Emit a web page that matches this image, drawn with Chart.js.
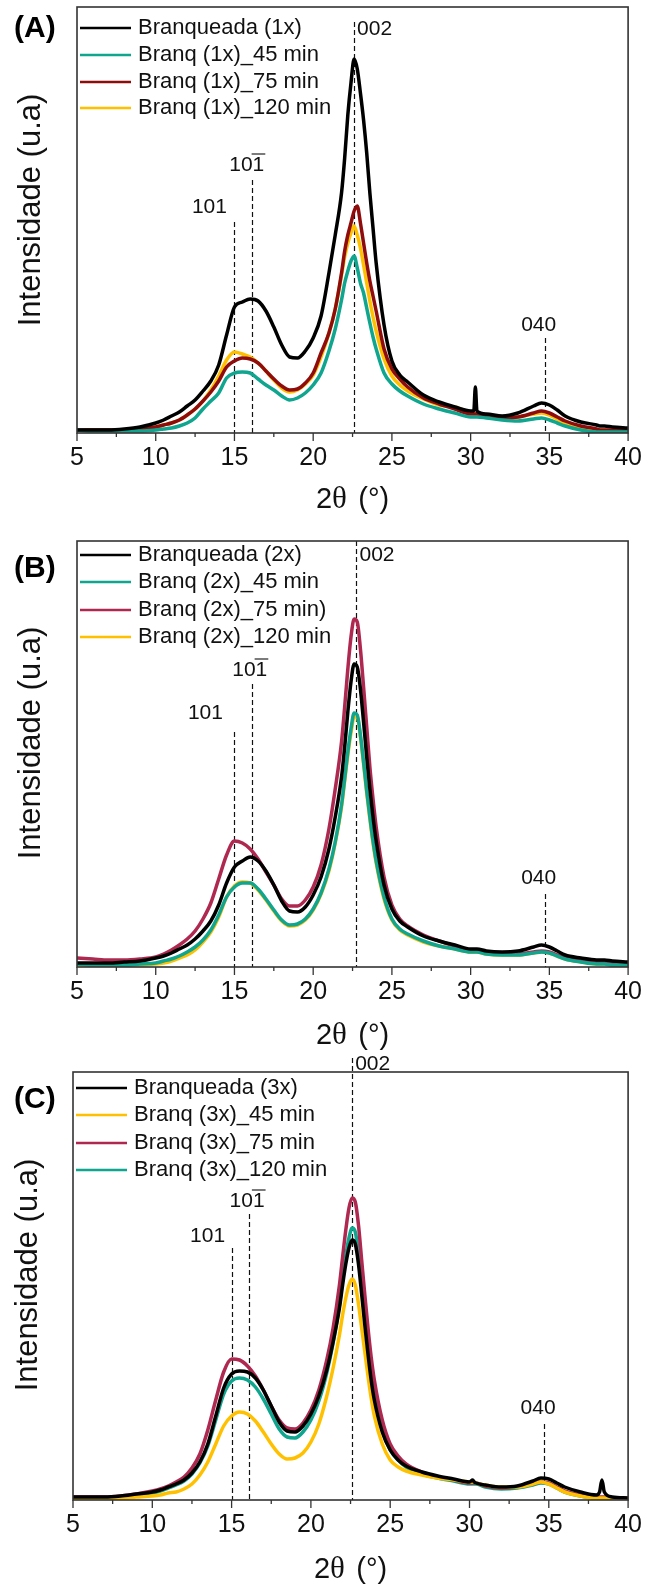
<!DOCTYPE html>
<html><head><meta charset="utf-8">
<script src="https://cdn.jsdelivr.net/npm/chart.js@4.4.1/dist/chart.umd.min.js"></script>
<style>
html,body{margin:0;padding:0;background:#fff;}
#wrap{position:relative;width:652px;height:1589px;overflow:hidden;background:#fff;}
canvas{position:absolute;left:0;}
</style></head><body>
<div id="wrap">
<canvas id="cA" style="top:0px" width="652" height="520"></canvas>
<canvas id="cB" style="top:520px" width="652" height="530"></canvas>
<canvas id="cC" style="top:1050px" width="652" height="539"></canvas>
</div>
<script>
// ---------------- DATA ----------------
const twoTheta = [5,6,7,8,9,10, 10.5,11,11.5,12,12.5,13,13.5,14,14.5,15, 15.5,16,16.5,17,17.5,18,18.5,19,19.5,20,
  20.5,21,21.4,21.8, 22.0,22.2,22.4,22.6,22.8, 23.0,23.2,23.4,23.6,23.8, 24.0,24.5,25,25.5,26, 27,28,29,30,
  30.2,30.3,30.4, 31,32,33,34, 34.5,35,35.5,36, 37,38, 38.2,38.35,38.5, 39,40];
const xTickValues = [5,10,15,20,25,30,35,40];

const A_labels = ['Branqueada (1x)', 'Branq (1x)_45 min', 'Branq (1x)_75 min', 'Branq (1x)_120 min'];
const A_branqueada = [3,3,3,4,6,10, 13,17,21,27,33,42,52,68,98,126, 131,134,132,122,106,88,76,75,82,95,
  117,160,198,240, 275,318,350,374,364, 340,313,280,240,205, 170,108,72,58,51, 38,31,26,22, 22,46,22, 19,17,20,27, 30,28,23,17, 11,8, 7,7,7, 6,5];
const A_45 = [3,2,2,2,2,3, 4,5,7,10,15,24,32,40,55,60, 61,60,54,48,43,37,33,35,40,48,
  60,82,104,133, 150,162,172,177,165, 150,140,125,110,96, 84,60,49,42,37, 29,24,20,16, 16,16,16, 15,13,12,14, 15,13,10,7, 3,1, 1,1,1, 1,1];
const A_75 = [3,3,3,3,4,6, 8,10,13,18,24,32,41,52,66,72, 75,74,70,62,54,47,43,44,50,60,
  80,100,124,160, 182,198,210,222,227, 210,190,170,152,137, 122,84,64,54,46, 35,29,24,19, 19,19,19, 17,15,16,20, 22,20,16,12, 7,4, 3,3,3, 3,3];
const A_120 = [3,3,3,3,4,6, 8,10,13,18,24,32,43,57,73,81, 79,76,70,62,53,45,41,43,49,58,
  76,100,124,158, 176,190,200,207,198, 185,168,150,132,116, 102,74,57,48,42, 34,28,26,20, 19,19,19, 17,15,16,19, 20,18,14,9, 5,3, 3,3,3, 2,2];

const B_labels = ['Branqueada (2x)', 'Branq (2x)_45 min', 'Branq (2x)_75 min)', 'Branq (2x)_120 min'];
const B_branqueada = [4,4,4,5,6,9, 11,14,18,22,28,36,46,62,84,100, 106,110,106,96,82,66,56,55,60,72,
  90,118,150,190, 220,255,285,303,300, 278,245,210,178,150, 126,82,58,46,40, 31,26,22,18, 18,18,18, 16,15,16,20, 22,20,16,12, 9,7, 7,7,7, 6,5];
const B_45 = [3,2,2,2,3,4, 6,8,11,15,20,27,37,52,70,80, 84,84,78,68,57,47,42,43,48,58,
  74,98,125,162, 188,215,238,254,252, 232,205,176,150,126, 106,70,48,38,33, 26,21,18,15, 15,15,15, 13,12,12,14, 15,14,11,8, 5,3, 3,3,3, 2,2];
const B_75 = [9,8,7,7,8,10, 13,17,22,28,36,48,64,88,112,126, 124,118,108,95,82,68,61,61,67,80,
  102,138,178,225, 260,298,330,348,345, 318,280,240,200,168, 140,90,62,48,41, 32,26,21,17, 17,17,17, 15,13,13,15, 16,15,12,9, 6,5, 5,5,5, 4,4];
const B_120 = [2,2,2,2,2,3, 4,6,9,12,17,25,35,50,70,81, 85,84,77,67,56,46,41,42,47,57,
  73,96,124,160, 186,212,234,250,250, 230,203,174,148,124, 104,68,47,37,32, 25,21,18,15, 15,15,15, 13,12,12,14, 15,14,11,8, 5,3, 3,3,3, 2,2];

const C_labels = ['Branqueada (3x)', 'Branq (3x)_45 min', 'Branq (3x)_75 min', 'Branq (3x)_120 min'];
const C_branqueada = [3,3,3,4,6,8, 10,13,16,20,27,38,56,84,112,126, 129,128,122,110,94,78,69,68,74,86,
  104,130,158,192, 215,236,252,260,256, 236,206,175,146,120, 100,68,50,40,34, 28,24,21,18, 20,18,17, 15,13,14,19, 22,21,17,13, 8,5, 8,20,8, 3,2];
const C_45 = [2,2,2,2,3,4, 5,7,8,11,16,25,38,56,74,84, 88,86,79,68,56,46,41,42,47,58,
  76,104,132,165, 185,202,215,221,215, 196,172,148,124,102, 84,56,40,33,29, 25,22,20,18, 18,18,17, 15,13,13,16, 18,16,12,8, 4,2, 2,2,2, 2,2];
const C_75 = [3,3,3,4,6,9, 11,14,18,23,32,46,70,100,128,141, 140,134,124,110,94,80,72,71,77,90,
  110,140,172,215, 243,270,292,302,298, 275,240,205,172,143, 120,80,56,44,36, 28,23,20,17, 17,17,17, 14,12,13,16, 18,17,13,9, 5,3, 3,3,3, 2,2];
const C_120 = [2,2,2,3,5,7, 9,12,15,19,26,37,54,80,106,119, 122,120,113,101,86,71,63,62,68,80,
  99,127,157,195, 220,244,262,272,268, 246,214,182,152,125, 104,70,50,40,33, 26,22,19,16, 16,16,16, 13,11,12,15, 17,16,12,8, 4,2, 2,2,2, 2,2];

const peakNames = ['101', '101', '002', '040'];
const peakOverline = [false, true, false, false];

// ---------------- STYLE / LAYOUT ----------------
const FONT = "'Liberation Sans', Arial, Helvetica, sans-serif";
const SERIF = "'Liberation Serif', 'DejaVu Serif', serif";
const BLACK = '#000000', TEAL = '#0FA58E', DRED = '#8E0C0C', YEL = '#FFC000', CRIM = '#AE2850';

const panels = [
  { id:'cA', letter:'(A)', series:[A_branqueada, A_45, A_75, A_120], labels:A_labels, colors:[BLACK,TEAL,DRED,YEL],
    pad:{left:77, right:16, top:7, bottom:47}, ymax:426, letterY:28.5, legendRows:[28,55,82,108], ytitle:{x:31,y:210}, xtitleY:500,
    peaks:[ {x:15.0, top:222, lx:-25, ly:207, align:'center'}, {x:16.1, top:180, lx:-5, ly:165, align:'center'},
            {x:22.6, top:22, lx:3, ly:29, align:'left'}, {x:34.7, top:338, lx:-6, ly:325, align:'center'} ] },
  { id:'cB', letter:'(B)', series:[B_branqueada, B_45, B_75, B_120], labels:B_labels, colors:[BLACK,TEAL,CRIM,YEL],
    pad:{left:77, right:17, top:21, bottom:43}, ymax:426, letterY:48.5, legendRows:[35,62,90,117], ytitle:{x:31,y:223}, xtitleY:516,
    peaks:[ {x:15.0, top:212, lx:-29, ly:193, align:'center'}, {x:16.1, top:164, lx:-2, ly:150, align:'center'},
            {x:22.75, top:21, lx:3, ly:35, align:'left'}, {x:34.7, top:374, lx:-6, ly:358, align:'center'} ] },
  { id:'cC', letter:'(C)', series:[C_branqueada, C_45, C_75, C_120], labels:C_labels, colors:[BLACK,YEL,CRIM,TEAL],
    pad:{left:73, right:19, top:22, bottom:49}, ymax:428, letterY:50, legendRows:[38,65,93,120], ytitle:{x:28,y:225}, xtitleY:520,
    peaks:[ {x:15.0, top:198, lx:-24, ly:186, align:'center'}, {x:16.1, top:164, lx:-2, ly:151, align:'center'},
            {x:22.6, top:8, lx:3, ly:14, align:'left'}, {x:34.7, top:374, lx:-6, ly:358, align:'center'} ] }
];

function panelPlugin(p) {
  return {
    id: 'deco_' + p.id,
    beforeDatasetsDraw(chart) {
      const ctx = chart.ctx, xs = chart.scales.x, ca = chart.chartArea;
      ctx.save();
      ctx.strokeStyle = '#111'; ctx.lineWidth = 1.2; ctx.setLineDash([5,3]);
      p.peaks.forEach(pk => {
        const px = Math.round(xs.getPixelForValue(pk.x)) + 0.5;
        ctx.beginPath(); ctx.moveTo(px, pk.top); ctx.lineTo(px, ca.bottom); ctx.stroke();
      });
      ctx.restore();
    },
    afterDraw(chart) {
      const ctx = chart.ctx, xs = chart.scales.x, ca = chart.chartArea;
      ctx.save();
      ctx.strokeStyle = '#333'; ctx.lineWidth = 1.6; ctx.setLineDash([]);
      ctx.strokeRect(ca.left, ca.top, ca.right - ca.left, ca.bottom - ca.top);
      ctx.lineWidth = 1.3;
      for (let v = 5; v <= 40.001; v += 2.5) {
        const px = xs.getPixelForValue(v);
        const major = xTickValues.includes(v);
        ctx.beginPath(); ctx.moveTo(px, ca.bottom); ctx.lineTo(px, ca.bottom + (major ? 8 : 4)); ctx.stroke();
      }
      ctx.fillStyle = '#111'; ctx.font = '21px ' + FONT; ctx.textBaseline = 'middle';
      p.peaks.forEach((pk, i) => {
        const px = xs.getPixelForValue(pk.x);
        ctx.textAlign = pk.align;
        const tx = px + pk.lx;
        ctx.fillText(peakNames[i], tx, pk.ly);
        if (peakOverline[i]) {
          const w = ctx.measureText(peakNames[i]).width;
          const w1 = ctx.measureText('1').width;
          const right = pk.align === 'center' ? tx + w / 2 : tx + w;
          ctx.lineWidth = 1.3;
          ctx.beginPath(); ctx.moveTo(right - w1 - 1, pk.ly - 11); ctx.lineTo(right + 1, pk.ly - 11); ctx.stroke();
        }
      });
      ctx.font = 'bold 30px ' + FONT; ctx.textAlign = 'left'; ctx.fillStyle = '#000';
      ctx.fillText(p.letter, 14, p.letterY);
      ctx.font = '22px ' + FONT;
      p.labels.forEach((lab, i) => {
        const y = p.legendRows[i];
        ctx.strokeStyle = p.colors[i]; ctx.lineWidth = 2.5;
        ctx.beginPath(); ctx.moveTo(ca.left + 3, y); ctx.lineTo(ca.left + 54, y); ctx.stroke();
        ctx.fillStyle = '#111';
        ctx.fillText(lab, ca.left + 61, y);
      });
      ctx.save();
      ctx.translate(p.ytitle.x, p.ytitle.y); ctx.rotate(-Math.PI / 2);
      ctx.font = '31px ' + FONT; ctx.textAlign = 'center'; ctx.fillStyle = '#111';
      ctx.fillText('Intensidade (u.a)', 0, 0);
      ctx.restore();
      const f1 = '29px ' + FONT, f2 = '31px ' + SERIF;
      ctx.font = f1; const w2 = ctx.measureText('2').width, w3 = ctx.measureText('(°)').width, ws = ctx.measureText(' ').width * 1.4;
      ctx.font = f2; const wt = ctx.measureText('θ').width;
      const cx = (ca.left + ca.right) / 2;
      let x0 = cx - (w2 + wt + ws + w3) / 2;
      ctx.textAlign = 'left'; ctx.fillStyle = '#111';
      ctx.font = f1; ctx.fillText('2', x0, p.xtitleY);
      ctx.font = f2; ctx.fillText('θ', x0 + w2, p.xtitleY);
      ctx.font = f1; ctx.fillText('(°)', x0 + w2 + wt + ws, p.xtitleY);
      ctx.restore();
    }
  };
}

panels.forEach(p => {
  const datasets = p.series.map((s, i) => ({
    label: p.labels[i],
    data: twoTheta.map((x, j) => ({ x: x, y: s[j] })),
    borderColor: p.colors[i],
    backgroundColor: p.colors[i],
    borderWidth: 3.5,
    pointRadius: 0,
    cubicInterpolationMode: 'monotone',
    fill: false
  }));
  new Chart(document.getElementById(p.id), {
    type: 'line',
    data: { datasets },
    options: {
      responsive: false, animation: false, devicePixelRatio: 1,
      layout: { padding: p.pad },
      plugins: { legend: { display: false }, tooltip: { enabled: false } },
      scales: {
        x: { type: 'linear', min: 5, max: 40, position: 'bottom',
             ticks: { stepSize: 5, font: { family: FONT, size: 25 }, color: '#111', padding: 10, maxRotation: 0, autoSkip: false },
             grid: { display: false, drawTicks: false }, border: { display: false },
             afterFit: (s) => { s.height = 40; } },
        y: { display: false, min: 0, max: p.ymax }
      }
    },
    plugins: [panelPlugin(p)]
  });
});
</script>
</body></html>
